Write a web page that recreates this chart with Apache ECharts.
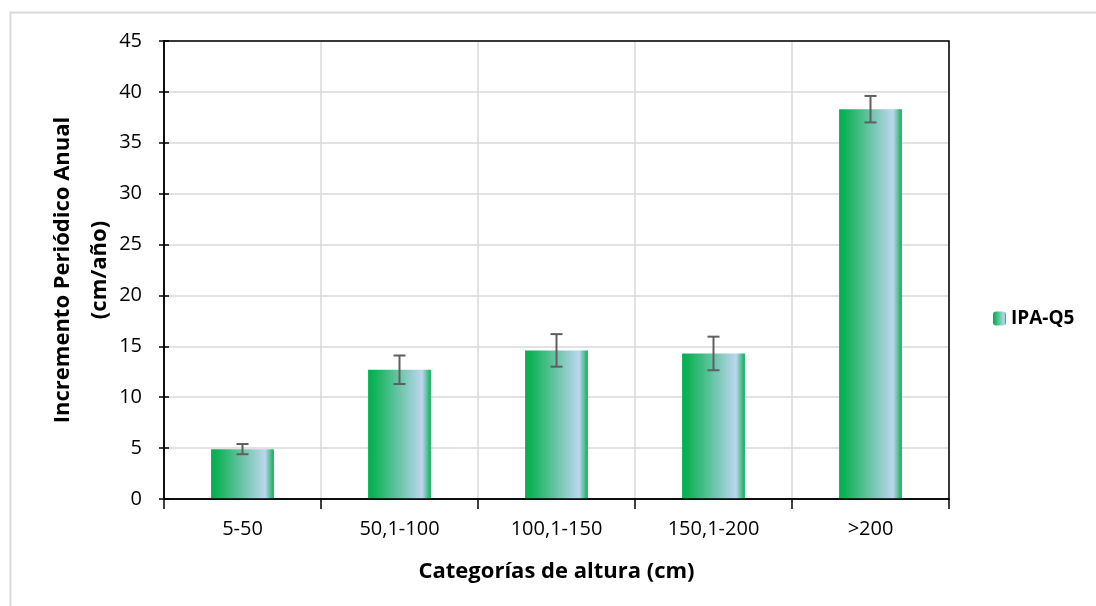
<!DOCTYPE html>
<html><head><meta charset="utf-8">
<script src="https://cdn.jsdelivr.net/npm/echarts@6/dist/echarts.min.js"></script>
<style>html,body{margin:0;padding:0;background:#fff}#c{width:1096px;height:606px}</style>
</head><body><div id="c"></div>
<script>
const categories = ['5-50', '50,1-100', '100,1-150', '150,1-200', '>200'];
const values = [4.9, 12.7, 14.6, 14.3, 38.3];
const errors = [0.5, 1.4, 1.6, 1.65, 1.3];
const seriesName = 'IPA-Q5';

const FONT = '"Open Sans", sans-serif';
const chart = echarts.init(document.getElementById('c'));
const grad = () => new echarts.graphic.LinearGradient(0, 0, 1, 0, [
  {offset: 0, color: '#00b050'},
  {offset: 0.1, color: '#10b258'},
  {offset: 0.86, color: '#bcd6ee'},
  {offset: 1, color: '#0cb055'}
]);
const errData = values.map((v, i) => [i, v - errors[i], v + errors[i]]);

chart.setOption({
  animation: false,
  graphic: [
    {type: 'rect', shape: {x: 10.5, y: 12.5, width: 1100, height: 610}, style: {fill: 'none', stroke: '#d9d9d9', lineWidth: 2}, z: -1},
    {type: 'rect', shape: {x: 164, y: 41, width: 785, height: 458}, style: {fill: 'none', stroke: '#000', lineWidth: 1.5}, z: 10}
  ],
  grid: {left: 164, right: 147, top: 41, bottom: 107},
  legend: {
    data: [{name: seriesName, itemStyle: {color: grad()}}],
    left: 988, top: 304, itemWidth: 13, itemHeight: 14, itemGap: 5,
    textStyle: {fontFamily: FONT, fontSize: 19, fontWeight: 'bold', color: '#000'}
  },
  xAxis: {
    type: 'category', data: categories,
    name: 'Categorías de altura (cm)', nameLocation: 'middle', nameGap: 62,
    nameTextStyle: {fontFamily: FONT, fontSize: 22, fontWeight: 'bold', color: '#000'},
    axisLine: {lineStyle: {color: '#000', width: 1.5}},
    axisTick: {show: true, length: 10, lineStyle: {color: '#000', width: 1.5}},
    axisLabel: {fontFamily: FONT, fontSize: 20, color: '#000', margin: 20},
    splitLine: {show: true, lineStyle: {color: '#d9d9d9', width: 1.5}}
  },
  yAxis: [{
    type: 'value', min: 0, max: 45, interval: 5,
    name: 'Incremento Periódico Anual\n(cm/año)', nameLocation: 'middle', nameGap: 46,
    nameMoveOverlap: false,
    nameTextStyle: {fontFamily: FONT, fontSize: 22, fontWeight: 'bold', color: '#000', lineHeight: 37},
    axisLine: {show: true, lineStyle: {color: '#000', width: 1.5}},
    axisTick: {show: true, length: 5, lineStyle: {color: '#000', width: 1.5}},
    axisLabel: {fontFamily: FONT, fontSize: 20, color: '#000', margin: 22},
    splitLine: {show: true, lineStyle: {color: '#d9d9d9', width: 1.5}}
  }, {
    type: 'value', min: 0, max: 45, interval: 5, position: 'left',
    axisLine: {show: false}, axisLabel: {show: false}, splitLine: {show: false},
    axisTick: {show: true, inside: true, length: 5, lineStyle: {color: '#000', width: 1.5}}
  }],
  series: [{
    name: seriesName, type: 'bar', data: values, barWidth: '40%',
    itemStyle: {color: grad()}
  }, {
    type: 'custom', data: errData, z: 5,
    renderItem: (params, api) => {
      const x = api.value(0);
      const lo = api.coord([x, api.value(1)]);
      const hi = api.coord([x, api.value(2)]);
      const hw = 6;
      const st = {stroke: '#5f5f5f', lineWidth: 2};
      return {type: 'group', children: [
        {type: 'line', shape: {x1: lo[0], y1: lo[1], x2: hi[0], y2: hi[1]}, style: st},
        {type: 'line', shape: {x1: lo[0]-hw, y1: lo[1], x2: lo[0]+hw, y2: lo[1]}, style: st},
        {type: 'line', shape: {x1: hi[0]-hw, y1: hi[1], x2: hi[0]+hw, y2: hi[1]}, style: st}
      ]};
    }
  }]
});
</script></body></html>
